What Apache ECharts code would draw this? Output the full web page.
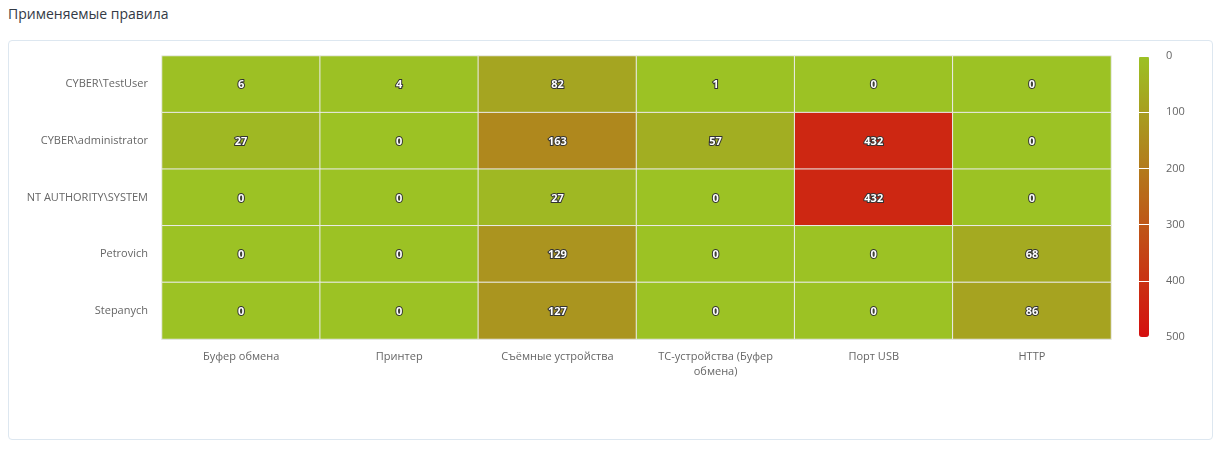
<!DOCTYPE html>
<html>
<head>
<meta charset="utf-8">
<script src="https://cdn.jsdelivr.net/npm/echarts@6/dist/echarts.min.js"></script>
<style>
	body { margin: 0; background: #fff; font-family: "Open Sans", sans-serif; }
	#title { position: absolute; left: 8px; top: 4px; font-size: 14px; color: #333a45; }
	#box { position: absolute; left: 8px; top: 40px; width: 1203px; height: 398px; border: 1px solid #dde7f0; border-radius: 4px; }
	#main { position: absolute; left: 0; top: 0; width: 1221px; height: 450px; }
</style>
</head>
<body>
<div id="title">Применяемые правила</div>
<div id="box"></div>
<div id="main"></div>
<script>
	// категории
	var users = ['CYBER\\TestUser', 'CYBER\\administrator', 'NT AUTHORITY\\SYSTEM', 'Petrovich', 'Stepanych'];
	var ruleTypes = ['Буфер обмена', 'Принтер', 'Съёмные устройства', 'ТС-устройства (Буфер обмена)', 'Порт USB', 'HTTP'];

	// значения по строкам (пользователям)
	var rowTestUser = [6, 4, 82, 1, 0, 0];
	var rowAdministrator = [27, 0, 163, 57, 432, 0];
	var rowSystem = [0, 0, 27, 0, 432, 0];
	var rowPetrovich = [0, 0, 129, 0, 0, 68];
	var rowStepanych = [0, 0, 127, 0, 0, 86];

	// шкала цвета
	var scaleMin = 0;
	var scaleMax = 500;
	var scaleStep = 100;

	var rows = [rowTestUser, rowAdministrator, rowSystem, rowPetrovich, rowStepanych];
	var cells = [];
	rows.forEach(function(row, y) {
		row.forEach(function(v, x) {
			cells.push([x, y, v]);
		});
	});

	// перенос длинных подписей по словам
	function wrapLabel(text) {
		var maxLen = 21;
		if (text.length <= maxLen) {
			return text;
		}
		var cut = text.lastIndexOf(' ', maxLen);
		if (cut < 0) {
			return text;
		}
		return text.slice(0, cut) + '\n' + text.slice(cut + 1);
	}

	var chart = echarts.init(document.getElementById('main'));
	chart.setOption({
		animation: false,
		textStyle: { fontFamily: 'Open Sans' },
		grid: [
			{ left: 162, right: 110, top: 56, bottom: 111 },
			{ left: 1139, width: 10, top: 56, height: 281 }
		],
		xAxis: [
			{
				type: 'category',
				data: ruleTypes,
				axisLine: { lineStyle: { color: '#ccd6eb' } },
				axisTick: { show: false },
				axisLabel: {
					color: '#666', fontSize: 11, margin: 10, interval: 0,
					fontFamily: 'Open Sans', lineHeight: 15,
					formatter: wrapLabel
				},
				splitLine: { show: false }
			},
			{ gridIndex: 1, type: 'value', show: false }
		],
		yAxis: [
			{
				type: 'category',
				data: users,
				inverse: true,
				axisLine: { show: false },
				axisTick: { show: false },
				axisLabel: { color: '#666', fontSize: 11, margin: 14, fontFamily: 'Open Sans' },
				splitLine: { show: false }
			},
			{
				gridIndex: 1,
				type: 'value',
				min: scaleMin,
				max: scaleMax,
				interval: scaleStep,
				inverse: true,
				position: 'right',
				z: 10,
				axisLine: { show: false },
				axisTick: { show: false },
				axisLabel: { color: '#666', fontSize: 11, margin: 17, fontFamily: 'Open Sans' },
				splitLine: { show: true, lineStyle: { color: '#ffffff', width: 1 } }
			}
		],
		visualMap: {
			type: 'continuous',
			min: scaleMin,
			max: scaleMax,
			orient: 'vertical',
			inverse: true,
			left: 1139,
			top: 56,
			padding: 0,
			itemWidth: 10,
			itemHeight: 281,
			calculable: false,
			hoverLink: false,
			text: null,
			seriesIndex: 0,
			inRange: { color: ['#9cc224', '#d50f0f'] }
		},
		series: [{
			type: 'heatmap',
			data: cells,
			itemStyle: { borderColor: '#ececec', borderWidth: 1 },
			label: {
				show: true,
				color: '#fff',
				fontSize: 11,
				fontWeight: 'bold',
				fontFamily: 'Open Sans',
				offset: [0, 1],
				textBorderColor: '#333',
				textBorderWidth: 2
			}
		}]
	});
</script>
</body>
</html>
